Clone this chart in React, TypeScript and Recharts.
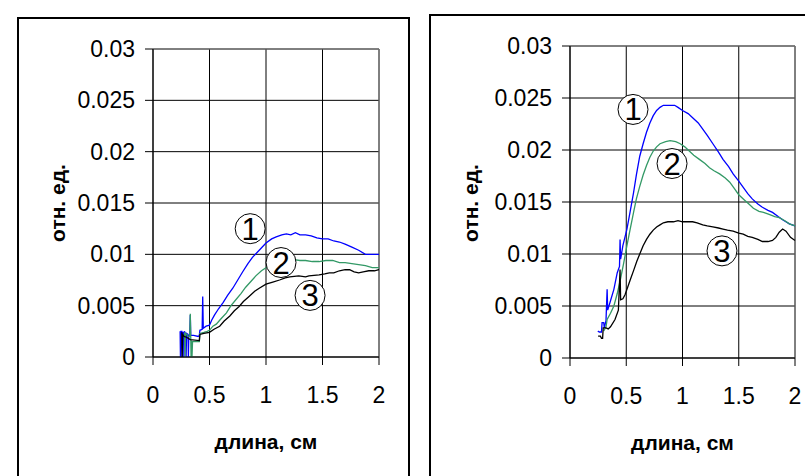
import React from 'react';
import { LineChart, Line, XAxis, YAxis, CartesianGrid, ReferenceLine, ReferenceDot } from 'recharts';

type Pt = [number, number];

const xTicks = [0, 0.5, 1, 1.5, 2];
const yTicks = [0, 0.005, 0.01, 0.015, 0.02, 0.025, 0.03];
const xTitle = 'длина, см';
const yTitle = 'отн. ед.';
const curveNames = ['1', '2', '3'];
const curveColors = ['#0000ff', '#339966', '#000000'];

// left panel
const left1: Pt[] = [
  [0.24, 0.0025], [0.243, 0], [0.248, 0.0025], [0.255, 0.0025], [0.258, 0], [0.262, 0.0024], [0.27, 0.0024],
  [0.273, 0], [0.278, 0.0025], [0.29, 0.0022], [0.293, 0], [0.297, 0.0023], [0.31, 0.0022], [0.313, 0],
  [0.317, 0.0021], [0.325, 0.0021], [0.33, 0.0041], [0.334, 0.0021], [0.36, 0.0021], [0.4, 0.002],
  [0.41, 0.0021], [0.415, 0.0026], [0.435, 0.0027], [0.44, 0.0059], [0.445, 0.0028], [0.47, 0.003],
  [0.5, 0.0031], [0.52, 0.0036], [0.545, 0.0041], [0.58, 0.0047], [0.62, 0.0053], [0.66, 0.006],
  [0.706, 0.0067], [0.75, 0.0075], [0.794, 0.0083], [0.84, 0.0091], [0.88, 0.0097], [0.94, 0.0104],
  [1.0, 0.0111], [1.05, 0.0115], [1.09, 0.0117], [1.14, 0.0119], [1.18, 0.012], [1.22, 0.0119],
  [1.26, 0.0121], [1.3, 0.0119], [1.35, 0.0119], [1.4, 0.0118], [1.45, 0.0116], [1.5, 0.0115],
  [1.55, 0.0115], [1.6, 0.0113], [1.65, 0.0112], [1.7, 0.011], [1.76, 0.0107], [1.82, 0.0104],
  [1.88, 0.01], [1.94, 0.01], [2.0, 0.01],
];
const left2: Pt[] = [
  [0.28, 0.0024], [0.283, 0], [0.287, 0.0023], [0.3, 0.0022], [0.31, 0.002], [0.325, 0.002], [0.33, 0.0042],
  [0.334, 0.0019], [0.337, 0], [0.34, 0.0016], [0.345, 0], [0.35, 0.0015], [0.41, 0.0015], [0.415, 0.0023],
  [0.45, 0.0024], [0.48, 0.0025], [0.5, 0.0026], [0.53, 0.003], [0.56, 0.0032], [0.6, 0.0037],
  [0.65, 0.0043], [0.69, 0.005], [0.735, 0.0056], [0.78, 0.0062], [0.82, 0.0068], [0.87, 0.0074],
  [0.91, 0.0079], [0.96, 0.0084], [1.0, 0.0087], [1.06, 0.0091], [1.12, 0.0094], [1.18, 0.0095],
  [1.235, 0.0095], [1.3, 0.0094], [1.35, 0.0094], [1.41, 0.0093], [1.47, 0.0093], [1.53, 0.0094],
  [1.59, 0.0094], [1.65, 0.0092], [1.7, 0.0092], [1.76, 0.0091], [1.82, 0.009], [1.88, 0.0089],
  [1.94, 0.0087], [2.0, 0.0087],
];
const left3: Pt[] = [
  [0.255, 0.0024], [0.258, 0], [0.262, 0.0022], [0.275, 0.002], [0.3, 0.0019], [0.33, 0.0017],
  [0.41, 0.0016], [0.415, 0.0022], [0.45, 0.0023], [0.5, 0.0024], [0.54, 0.0027], [0.59, 0.003],
  [0.63, 0.0035], [0.68, 0.004], [0.72, 0.0045], [0.76, 0.0049], [0.8, 0.0054], [0.85, 0.0059],
  [0.9, 0.0064], [0.94, 0.0067], [1.0, 0.0071], [1.06, 0.0073], [1.12, 0.0075], [1.17, 0.0077],
  [1.21, 0.0078], [1.29, 0.0079], [1.35, 0.0078], [1.38, 0.0079], [1.47, 0.008], [1.52, 0.0081],
  [1.56, 0.0082], [1.6, 0.0082], [1.65, 0.0084], [1.7, 0.0085], [1.74, 0.0085], [1.78, 0.0083],
  [1.82, 0.0082], [1.86, 0.0083], [1.91, 0.0084], [1.96, 0.0084], [2.0, 0.0085],
];
const leftMarks: Pt[] = [[0.86, 0.0125], [1.133, 0.0092], [1.39, 0.006]];

// right panel
const right1: Pt[] = [
  [0.247, 0.0026], [0.26, 0.0025], [0.28, 0.0025], [0.285, 0.0034], [0.3, 0.0034], [0.305, 0.0029],
  [0.32, 0.0036], [0.33, 0.0066], [0.335, 0.0046], [0.36, 0.0055], [0.39, 0.0066], [0.42, 0.0082],
  [0.44, 0.0088], [0.445, 0.0114], [0.45, 0.0095], [0.47, 0.0108], [0.506, 0.0124], [0.535, 0.0141],
  [0.565, 0.0159], [0.59, 0.0176], [0.62, 0.0194], [0.65, 0.0206], [0.68, 0.0217], [0.71, 0.0226],
  [0.74, 0.0233], [0.77, 0.0238], [0.8, 0.0241], [0.83, 0.0243], [0.86, 0.0243], [0.9, 0.0243],
  [0.93, 0.0243], [0.96, 0.0241], [1.0, 0.0238], [1.05, 0.0235], [1.09, 0.0231], [1.14, 0.0226],
  [1.18, 0.022], [1.22, 0.0214], [1.27, 0.0206], [1.32, 0.0198], [1.36, 0.0191], [1.41, 0.0184],
  [1.45, 0.0177], [1.5, 0.017], [1.54, 0.0164], [1.58, 0.0158], [1.62, 0.0153], [1.67, 0.0148],
  [1.71, 0.0145], [1.76, 0.0142], [1.8, 0.014], [1.85, 0.0136], [1.89, 0.0133], [1.95, 0.0129],
  [2.0, 0.0127],
];
const right2: Pt[] = [
  [0.3, 0.0026], [0.32, 0.003], [0.33, 0.0037], [0.36, 0.0043], [0.39, 0.005], [0.42, 0.0062],
  [0.447, 0.0075], [0.475, 0.009], [0.506, 0.0108], [0.535, 0.0124], [0.565, 0.014], [0.59, 0.0153],
  [0.62, 0.0165], [0.65, 0.0176], [0.68, 0.0185], [0.71, 0.0193], [0.74, 0.0199], [0.77, 0.0203],
  [0.8, 0.0206], [0.85, 0.0208], [0.89, 0.0209], [0.94, 0.0208], [0.98, 0.0206], [1.02, 0.0203],
  [1.06, 0.0199], [1.1, 0.0195], [1.15, 0.0191], [1.2, 0.0187], [1.24, 0.0183], [1.28, 0.018],
  [1.33, 0.0177], [1.38, 0.0173], [1.42, 0.0169], [1.46, 0.0163], [1.5, 0.0157], [1.55, 0.0152],
  [1.59, 0.0148], [1.63, 0.0144], [1.68, 0.0141], [1.72, 0.014], [1.77, 0.0138], [1.82, 0.0136],
  [1.86, 0.0135], [1.91, 0.0132], [1.95, 0.0129], [2.0, 0.0127],
];
const right3: Pt[] = [
  [0.25, 0.0021], [0.27, 0.0021], [0.28, 0.0019], [0.29, 0.0019], [0.295, 0.0029], [0.32, 0.0029],
  [0.34, 0.0028], [0.36, 0.003], [0.4, 0.0037], [0.43, 0.0046], [0.445, 0.0085], [0.45, 0.0056],
  [0.47, 0.0057], [0.49, 0.0061], [0.535, 0.0075], [0.565, 0.0084], [0.594, 0.0093], [0.62, 0.01],
  [0.65, 0.0108], [0.68, 0.0114], [0.71, 0.0119], [0.74, 0.0123], [0.77, 0.0126], [0.8, 0.0128],
  [0.83, 0.013], [0.87, 0.0131], [0.92, 0.0131], [0.96, 0.0132], [1.0, 0.0131], [1.04, 0.0131],
  [1.09, 0.0131], [1.13, 0.013], [1.18, 0.0128], [1.22, 0.0127], [1.27, 0.0126], [1.32, 0.0125],
  [1.36, 0.0124], [1.4, 0.0123], [1.45, 0.0122], [1.5, 0.012], [1.54, 0.0119], [1.58, 0.0117],
  [1.62, 0.0116], [1.67, 0.0114], [1.71, 0.0112], [1.76, 0.0112], [1.8, 0.0113], [1.83, 0.0116],
  [1.86, 0.0121], [1.89, 0.0124], [1.92, 0.0122], [1.96, 0.0116], [2.0, 0.0113],
];
const rightMarks: Pt[] = [[0.56, 0.0239], [0.907, 0.0187], [1.351, 0.0103]];

const FONT = '"Liberation Sans", Arial, sans-serif';
const toXY = (pts: Pt[]) => pts.map(([x, y]) => ({ x, y }));

interface PanelProps {
  series: Pt[][];
  marks: Pt[];
  left: number;
  width: number;
  yAxisWidth: number;
  top: number;
  bottom: number;
  right: number;
  titleX: number;
}

const Panel: React.FC<PanelProps> = ({ series, marks, left, width, yAxisWidth, top, bottom, right, titleX }) => (
  <div style={{ position: 'absolute', left, top: 0 }}>
    <LineChart width={width} height={476} margin={{ top, right, bottom, left: 0 }}>
      <CartesianGrid stroke="#000" strokeWidth={1} />
      <XAxis
        type="number"
        dataKey="x"
        domain={[0, 2]}
        ticks={xTicks}
        interval={0}
        height={60}
        tickSize={8}
        tickMargin={22}
        stroke="#000"
        tick={{ fill: '#000', fontSize: 23, fontFamily: FONT }}
        label={{ value: xTitle, position: 'bottom', offset: 17, fill: '#000', fontSize: 21, fontWeight: 'bold', fontFamily: FONT }}
      />
      <YAxis
        type="number"
        domain={[0, 0.03]}
        ticks={yTicks}
        interval={0}
        width={yAxisWidth}
        tickSize={8}
        tickMargin={10}
        stroke="#000"
        tickFormatter={(v: number) => String(v)}
        tick={{ fill: '#000', fontSize: 23, fontFamily: FONT }}
        label={{
          value: yTitle,
          content: () => (
            <text
              x={titleX}
              y={203}
              transform={`rotate(-90 ${titleX} 203)`}
              textAnchor="middle"
              fill="#000"
              fontSize={21}
              fontWeight="bold"
              fontFamily={FONT}
            >
              {yTitle}
            </text>
          ),
        }}
      />
      <ReferenceLine y={0.03} stroke="#808080" />
      <ReferenceLine x={2} stroke="#808080" />
      {series.map((pts, i) => (
        <Line
          key={curveNames[i]}
          data={toXY(pts)}
          dataKey="y"
          type="linear"
          stroke={curveColors[i]}
          strokeWidth={1.3}
          dot={false}
          isAnimationActive={false}
        />
      ))}
      {marks.map(([x, y], i) => (
        <ReferenceDot
          key={`m${i}`}
          x={x}
          y={y}
          r={15}
          fill="#fff"
          stroke="#000"
          strokeWidth={1}
          label={{ value: curveNames[i], position: 'center', fill: '#000', fontSize: 31, fontFamily: FONT }}
        />
      ))}
    </LineChart>
  </div>
);

export default function App() {
  return (
    <div style={{ position: 'absolute', left: 0, top: 0, width: 805, height: 476, background: '#fff', overflow: 'hidden' }}>
      <div style={{ position: 'absolute', left: 17, top: 17, width: 389, height: 480, border: '2px solid #000' }} />
      <div style={{ position: 'absolute', left: 429, top: 14, width: 420, height: 480, border: '2px solid #000' }} />
      <Panel
        series={[left1, left2, left3]}
        marks={leftMarks}
        left={0}
        width={400}
        yAxisWidth={153}
        top={49}
        bottom={59}
        right={21}
        titleX={65}
      />
      <Panel
        series={[right1, right2, right3]}
        marks={rightMarks}
        left={410}
        width={395}
        yAxisWidth={160}
        top={46}
        bottom={58}
        right={10}
        titleX={68}
      />
    </div>
  );
}
